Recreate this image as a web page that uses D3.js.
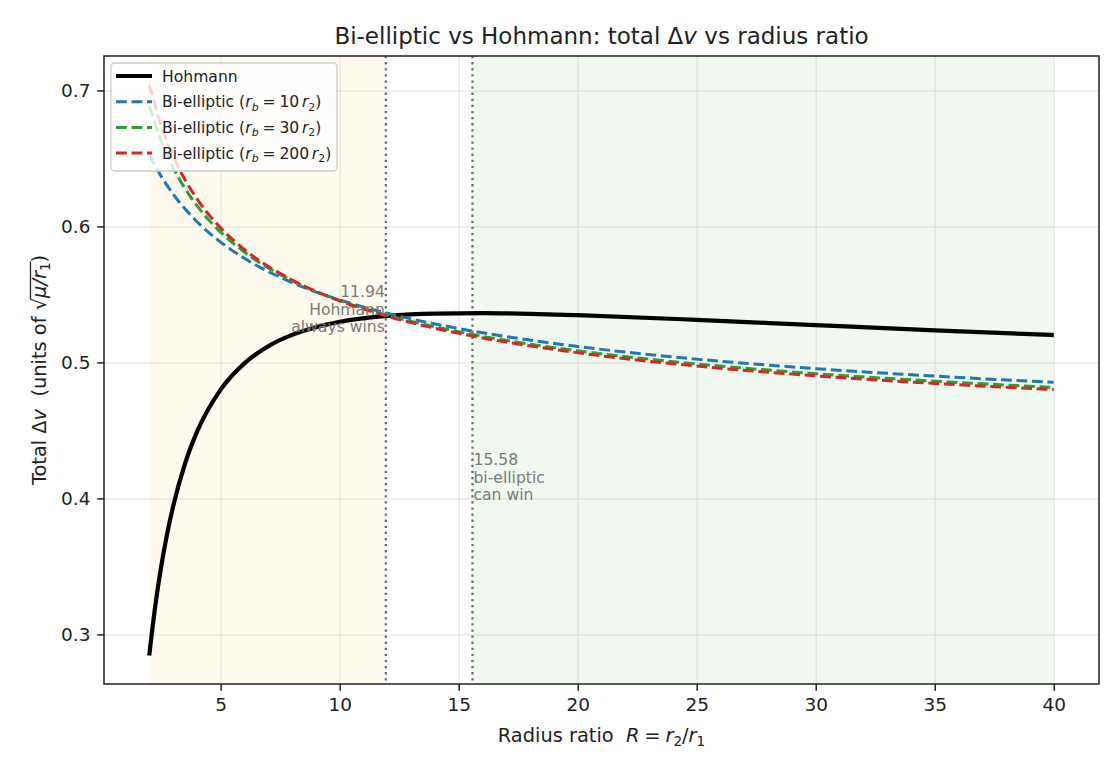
<!DOCTYPE html>
<html lang="en">
<head>
<meta charset="UTF-8">
<title>Bi-elliptic vs Hohmann</title>
<script src="https://d3js.org/d3.v7.min.js"></script>
<style>
  body { margin: 0; background: #fff; font-family: "DejaVu Sans", sans-serif; }
  text { white-space: pre; }
  .grid line { stroke: #b0b0b0; stroke-opacity: 0.3; stroke-width: 1.2; }
  .grid path { display: none; }
  .axis path, .axis line { stroke: #222; stroke-width: 1.5; }
  .axis text { font-family: "DejaVu Sans", sans-serif; font-size: 18.5px; fill: #222; }
</style>
</head>
<body>
<div id="chart"></div>
<script>
// radius ratio samples
const rHohmann = [2, 2.25, 2.5, 2.75, 3, 3.5, 4, 5, 6, 7, 8, 9, 10, 12, 14, 16, 18, 20, 25, 30, 35, 40];
const dvHohmann = [0.2845, 0.3204, 0.3496, 0.3737, 0.3938, 0.4254, 0.4487, 0.4800, 0.4993, 0.5119, 0.5202,
                   0.5259, 0.5298, 0.5342, 0.5359, 0.5362, 0.5357, 0.5347, 0.5313, 0.5274, 0.5236, 0.5201];

const rBiElliptic = [2, 2.5, 3, 4, 5, 6, 8, 10, 12, 15, 20, 25, 30, 35, 40];
const dvBi10  = [0.6528, 0.6369, 0.6239, 0.6036, 0.5884, 0.5765, 0.5587, 0.5459, 0.5361, 0.5249, 0.5117, 0.5024, 0.4954, 0.4899, 0.4853];
const dvBi30  = [0.6886, 0.6629, 0.6434, 0.6154, 0.5958, 0.5811, 0.5601, 0.5455, 0.5347, 0.5225, 0.5085, 0.4989, 0.4917, 0.4862, 0.4816];
const dvBi200 = [0.7043, 0.6742, 0.6519, 0.6204, 0.5989, 0.5830, 0.5606, 0.5453, 0.5339, 0.5214, 0.5071, 0.4973, 0.4901, 0.4845, 0.4800];

const rbFactors = ["10", "30", "200"];
const thresholds = [11.94, 15.58];
const xTicks = [5, 10, 15, 20, 25, 30, 35, 40];
const yTicks = [0.3, 0.4, 0.5, 0.6, 0.7];

const margin = {top: 56, right: 21, bottom: 86, left: 104},
      width = 1120 - margin.left - margin.right,
      height = 770 - margin.top - margin.bottom;

const svg = d3.select("#chart")
  .append("svg")
  .attr("width", width + margin.left + margin.right)
  .attr("height", height + margin.top + margin.bottom)
  .append("g")
  .attr("transform", `translate(${margin.left},${margin.top})`);

const x = d3.scaleLinear().domain([0.1, 41.9]).range([0, width]);
const y = d3.scaleLinear().domain([0.2635, 0.7253]).range([height, 0]);

// rich text helper: italic / subscript pieces
function richText(sel, parts, fs) {
  let shift = 0;
  parts.forEach(p => {
    const t = sel.append("tspan").text(p.t);
    if (p.i) t.attr("font-style", "italic");
    const want = p.sub ? fs * 0.22 : 0;
    if (want !== shift) { t.attr("dy", want - shift); shift = want; }
    if (p.sub) t.attr("font-size", fs * 0.7);
  });
}

// shaded regions
svg.append("rect")
  .attr("x", x(2)).attr("y", 0)
  .attr("width", x(thresholds[0]) - x(2)).attr("height", height)
  .attr("fill", "#f5b800").attr("fill-opacity", 0.065);
svg.append("rect")
  .attr("x", x(thresholds[1])).attr("y", 0)
  .attr("width", x(40) - x(thresholds[1])).attr("height", height)
  .attr("fill", "#2ca02c").attr("fill-opacity", 0.07);

// grid
svg.append("g").attr("class", "grid")
  .call(d3.axisLeft(y).tickValues(yTicks).tickSize(-width).tickFormat(""));
svg.append("g").attr("class", "grid")
  .attr("transform", `translate(0,${height})`)
  .call(d3.axisBottom(x).tickValues(xTicks).tickSize(-height).tickFormat(""));

// threshold lines
svg.selectAll(".thr")
  .data(thresholds)
  .join("line")
  .attr("x1", d => x(d)).attr("x2", d => x(d))
  .attr("y1", 0).attr("y2", height)
  .attr("stroke", "#6e6e6e").attr("stroke-width", 2.3)
  .attr("stroke-dasharray", "2.3,3.8");

// curves
const line = d3.line().x(d => x(d[0])).y(d => y(d[1])).curve(d3.curveMonotoneX);

const series = [
  {label: "Hohmann", r: rHohmann, v: dvHohmann, color: "#000", w: 4.2, dash: null},
  {label: rbFactors[0], r: rBiElliptic, v: dvBi10, color: "#1f77b4", w: 3, dash: "10.8,4.7"},
  {label: rbFactors[1], r: rBiElliptic, v: dvBi30, color: "#2ca02c", w: 3, dash: "10.8,4.7"},
  {label: rbFactors[2], r: rBiElliptic, v: dvBi200, color: "#d62728", w: 3, dash: "10.8,4.7"}
];

series.forEach(s => {
  svg.append("path")
    .datum(s.r.map((r, i) => [r, s.v[i]]))
    .attr("d", line)
    .attr("fill", "none")
    .attr("stroke", s.color)
    .attr("stroke-width", s.w)
    .attr("stroke-dasharray", s.dash);
});

// annotations
const annFs = 15.6;
const ann1 = svg.append("text")
  .attr("font-size", annFs).attr("fill", "#7a7a7a").attr("text-anchor", "end");
["11.94", "Hohmann", "always wins"].forEach((t, i) => {
  ann1.append("tspan").attr("x", x(thresholds[0]) - 1).attr("y", y(0.5478) + i * 17.2).text(t);
});
const ann2 = svg.append("text")
  .attr("font-size", annFs).attr("fill", "#7a7a7a").attr("text-anchor", "start");
["15.58", "bi-elliptic", "can win"].forEach((t, i) => {
  ann2.append("tspan").attr("x", x(thresholds[1]) + 1).attr("y", y(0.4243) + i * 17.2).text(t);
});

// axes
svg.append("g").attr("class", "axis")
  .attr("transform", `translate(0,${height})`)
  .call(d3.axisBottom(x).tickValues(xTicks).tickSize(6.8).tickPadding(6.8))
  .call(g => g.select(".domain").remove());
svg.append("g").attr("class", "axis")
  .call(d3.axisLeft(y).tickValues(yTicks).tickFormat(d3.format(".1f")).tickSize(6.8).tickPadding(6.8))
  .call(g => g.select(".domain").remove());

svg.append("rect")
  .attr("width", width).attr("height", height)
  .attr("fill", "none").attr("stroke", "#222").attr("stroke-width", 1.5);

// title
const title = svg.append("text")
  .attr("x", width / 2).attr("y", -12)
  .attr("text-anchor", "middle").attr("font-size", 23).attr("fill", "#222");
richText(title, [{t: "Bi-elliptic vs Hohmann: total Δ"}, {t: "v", i: true}, {t: " vs radius ratio"}], 23);

// x label
const xl = svg.append("text")
  .attr("x", width / 2).attr("y", height + 58)
  .attr("text-anchor", "middle").attr("font-size", 19.4).attr("fill", "#222");
richText(xl, [{t: "Radius ratio  "}, {t: "R", i: true}, {t: "\u2005=\u2005"}, {t: "r", i: true}, {t: "2", sub: true},
              {t: "/"}, {t: "r", i: true}, {t: "1", sub: true}], 19.4);

// y label with radical
const ylg = svg.append("g")
  .attr("transform", `translate(${-58},${height / 2}) rotate(-90)`);
const yl = ylg.append("text")
  .attr("x", 0).attr("y", 0)
  .attr("text-anchor", "middle").attr("font-size", 19.4).attr("fill", "#222");
richText(yl, [{t: "Total Δ"}, {t: "v", i: true}, {t: "  (units of "}, {t: "√"}, {t: "μ/r", i: true},
              {t: "1", sub: true}, {t: ")"}], 19.4);
{
  const node = yl.node();
  const full = node.textContent;
  const iRad = full.indexOf("√");
  const iEnd = full.length - 2;
  const eRad = node.getExtentOfChar(iRad);
  const eEnd = node.getExtentOfChar(iEnd);
  ylg.append("line")
    .attr("x1", eRad.x + eRad.width - 0.5).attr("x2", eEnd.x + eEnd.width + 1)
    .attr("y1", -19.4 * 0.8).attr("y2", -19.4 * 0.8)
    .attr("stroke", "#222").attr("stroke-width", 1.3);
}

// legend
const legFs = 15.6;
const legend = svg.append("g").attr("transform", "translate(7,7)");
legend.append("rect")
  .attr("width", 226).attr("height", 108).attr("rx", 4)
  .attr("fill", "#fff").attr("fill-opacity", 0.8)
  .attr("stroke", "#cccccc").attr("stroke-width", 1.3);

series.forEach((s, i) => {
  const cy = 13 + i * 25.7;
  legend.append("line")
    .attr("x1", 5).attr("x2", 41).attr("y1", cy).attr("y2", cy)
    .attr("stroke", s.color).attr("stroke-width", s.w)
    .attr("stroke-dasharray", s.dash);
  const t = legend.append("text")
    .attr("x", 51).attr("y", cy + 5.5)
    .attr("font-size", legFs).attr("fill", "#222");
  if (i === 0) {
    t.text(s.label);
  } else {
    richText(t, [{t: "Bi-elliptic ("}, {t: "r", i: true}, {t: "b", i: true, sub: true}, {t: "\u2005=\u2005" + s.label + "\u2006"},
                 {t: "r", i: true}, {t: "2", sub: true}, {t: ")"}], legFs);
  }
});
</script>
</body>
</html>
